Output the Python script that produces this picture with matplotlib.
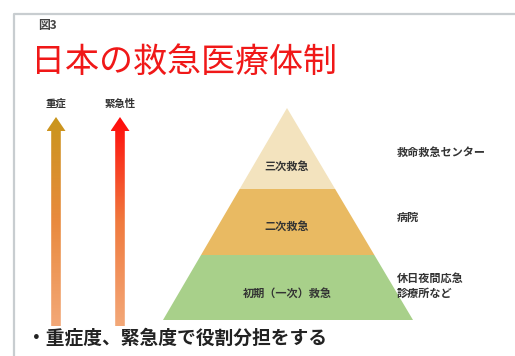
import matplotlib
matplotlib.use("Agg")
import matplotlib.pyplot as plt
import numpy as np
from matplotlib.patches import Polygon
from matplotlib.colors import LinearSegmentedColormap

plt.rcParams['font.family'] = ['Noto Sans CJK JP', 'DejaVu Sans']

# ---- data ----
fig_label = "図3"
title = "日本の救急医療体制"
levels = ["三次救急", "二次救急", "初期（一次）救急"]
facilities = ["救命救急センター", "病院", "休日夜間応急\n診療所など"]
level_colors = ["#F3E3BE", "#E9BA62", "#A8D08A"]
axis_labels = ["重症", "緊急性"]
arrow_colors = [["#C9961C", "#E98A3E", "#F3A878"],
                ["#FF0A0A", "#F07A3E", "#F3A878"]]
note = "・重症度、緊急度で役割分担をする"

W, H = 515, 356
fig = plt.figure(figsize=(W / 100, H / 100), dpi=100)
ax = fig.add_axes([0, 0, 1, 1])
ax.set_xlim(0, W)
ax.set_ylim(H, 0)
ax.axis("off")

# frame
ax.plot([13.5, 13.5, W], [H, 13.5, 13.5], color="#C8CDD0", lw=1.6)

ax.text(38, 25, fig_label, fontsize=8.5, color="#444444", va="center", ha="left", weight="bold")
ax.text(31, 62, title, fontsize=24.5, color="#F01818", va="center", ha="left")

# pyramid
apex = (287, 108)
base_y = 320
base_l, base_r = 163, 413
bounds = [108, 189, 255, 320]

def x_at(y, side):
    t = (y - apex[1]) / (base_y - apex[1])
    if side == "l":
        return apex[0] + (base_l - apex[0]) * t
    return apex[0] + (base_r - apex[0]) * t

for i, col in enumerate(level_colors):
    y0, y1 = bounds[i], bounds[i + 1]
    pts = [(x_at(y0, "l"), y0), (x_at(y0, "r"), y0), (x_at(y1, "r"), y1), (x_at(y1, "l"), y1)]
    ax.add_patch(Polygon(pts, closed=True, facecolor=col, edgecolor="none"))
label_y = [166, 226, 293]
fac_y = [152, 217, 286]
for lab, fac, ly, fy in zip(levels, facilities, label_y, fac_y):
    ax.text(apex[0], ly, lab, fontsize=8, color="#333333", ha="center", va="center", weight="bold")
    ax.text(397, fy, fac, fontsize=8, color="#333333", ha="left", va="center", weight="bold",
            linespacing=1.15)

# gradient arrows
arrow_x = [56, 120]
tip_y, head_y, bottom_y = 117, 131, 326
head_hw, shaft_hw = 9.5, 4.8
for cx, lab, cols in zip(arrow_x, axis_labels, arrow_colors):
    pts = [(cx, tip_y), (cx + head_hw, head_y), (cx + shaft_hw, head_y), (cx + shaft_hw, bottom_y),
           (cx - shaft_hw, bottom_y), (cx - shaft_hw, head_y), (cx - head_hw, head_y)]
    poly = Polygon(pts, closed=True, facecolor="none", edgecolor="none")
    ax.add_patch(poly)
    cmap = LinearSegmentedColormap.from_list("g", cols)
    grad = np.linspace(0, 1, 256).reshape(-1, 1)
    im = ax.imshow(grad, cmap=cmap, extent=[cx - head_hw, cx + head_hw, bottom_y, tip_y],
                   aspect="auto", interpolation="bilinear")
    im.set_clip_path(poly)
    ax.text(cx, 104, lab, fontsize=7.5, color="#333333", ha="center", va="center", weight="bold")

ax.set_xlim(0, W)
ax.set_ylim(H, 0)

ax.text(27, 338, note, fontsize=13.5, color="#222222", ha="left", va="center", weight="bold")

fig.savefig("out.png", dpi=100)
